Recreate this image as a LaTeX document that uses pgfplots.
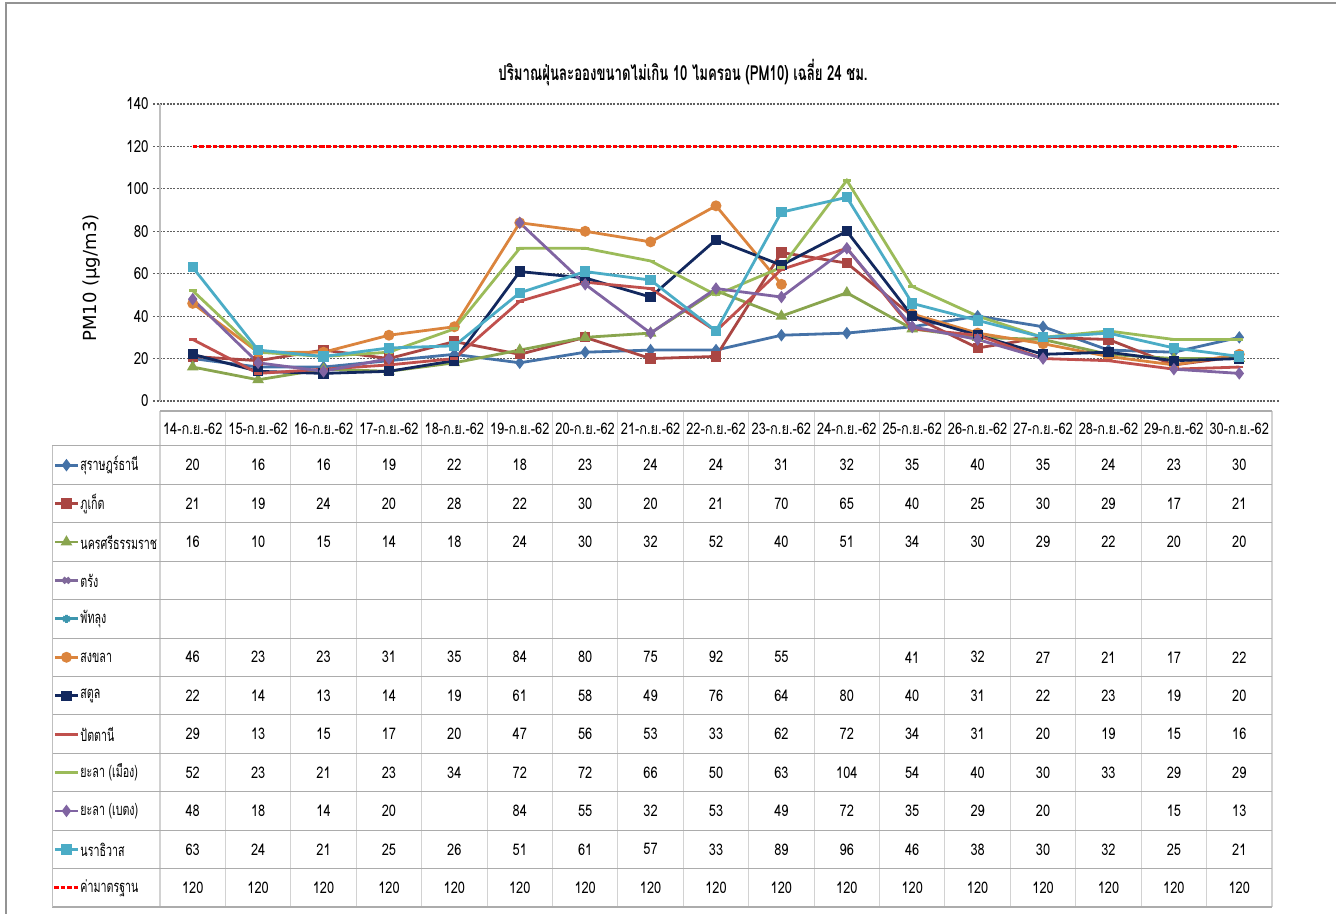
\documentclass[border=0pt]{standalone}
\usepackage{pgfplots}
\pgfplotsset{compat=1.18}
\usepackage{pgfplotstable}
\usepackage{fontspec}
\setmainfont{Loma}[Script=Thai, FakeStretch=0.8]
\newfontfamily\narrowthai{Loma}[Script=Thai, FakeStretch=0.64]
\newfontfamily\dejavu{DejaVu Sans}

\definecolor{cA}{HTML}{4572A7}
\definecolor{cB}{HTML}{AA4643}
\definecolor{cC}{HTML}{89A54E}
\definecolor{cD}{HTML}{80699B}
\definecolor{cE}{HTML}{3D96AE}
\definecolor{cF}{HTML}{DB843D}
\definecolor{cG}{HTML}{12285E}
\definecolor{cH}{HTML}{C0504D}
\definecolor{cI}{HTML}{9BBB59}
\definecolor{cJ}{HTML}{8064A2}
\definecolor{cK}{HTML}{4BACC6}
\definecolor{cStd}{HTML}{FF0000}

\pgfplotstableread{
x s1 s2 s3 s4 s5 s6 s7 s8 s9 s10 s11 std
0 20 21 16 nan nan 46 22 29 52 48 63 120
1 16 19 10 nan nan 23 14 13 23 18 24 120
2 16 24 15 nan nan 23 13 15 21 14 21 120
3 19 20 14 nan nan 31 14 17 23 20 25 120
4 22 28 18 nan nan 35 19 20 34 nan 26 120
5 18 22 24 nan nan 84 61 47 72 84 51 120
6 23 30 30 nan nan 80 58 56 72 55 61 120
7 24 20 32 nan nan 75 49 53 66 32 57 120
8 24 21 52 nan nan 92 76 33 50 53 33 120
9 31 70 40 nan nan 55 64 62 63 49 89 120
10 32 65 51 nan nan nan 80 72 104 72 96 120
11 35 40 34 nan nan 41 40 34 54 35 46 120
12 40 25 30 nan nan 32 31 31 40 29 38 120
13 35 30 29 nan nan 27 22 20 30 20 30 120
14 24 29 22 nan nan 21 23 19 33 nan 32 120
15 23 17 20 nan nan 17 19 15 29 15 25 120
16 30 21 20 nan nan 22 20 16 29 13 21 120
}\data

\pgfplotsset{
  /pgf/number format/assume math mode=true,
  base/.style={line width=2.1pt, mark size=3pt, mark options={solid}},
  sA/.style={base, color=cA, mark=diamond*},
  sB/.style={base, color=cB, mark=square*, mark size=2.8pt},
  sC/.style={base, color=cC, mark=triangle*},
  sD/.style={base, color=cD, mark=x},
  sE/.style={base, color=cE, mark=asterisk},
  sF/.style={base, color=cF, mark=*},
  sG/.style={base, color=cG, mark=square*, mark size=2.8pt},
  sH/.style={base, color=cH, mark=-},
  sI/.style={base, color=cI, mark=-},
  sJ/.style={base, color=cJ, mark=diamond*},
  sK/.style={base, color=cK, mark=square*, mark size=2.8pt},
  sStd/.style={line width=2.3pt, color=cStd, dash pattern=on 3.5pt off 1.5pt, mark=none},
  cellnum/.style={draw=none, mark=none, point meta=explicit, unbounded coords=discard,
     nodes near coords={\pgfmathprintnumber[fixed,precision=0]{\pgfplotspointmeta}},
     every node near coord/.append style={anchor=center, font=\fontsize{12}{14}\selectfont, text=black}},
}

\begin{document}
\begin{tikzpicture}[x=0.75pt,y=0.75pt]
\useasboundingbox (0,0) rectangle (1336,914);
\coordinate (chartSW) at (160,513);
\coordinate (tableSW) at (160,7);
\draw[gray!85, line width=1.1pt] (5.8,-10) -- (5.8,911) -- (1345,911);

\node[font=\narrowthai\fontsize{15.5}{17}\selectfont\bfseries] at (683,841) {ปริมาณฝุ่นละอองขนาดไม่เกิน 10 ไมครอน (PM10) เฉลี่ย 24 ชม.};
\node[rotate=90, font=\dejavu\fontsize{13.5}{15}\selectfont] at (92,636) {PM10 (µg/m3)};

\begin{axis}[at={(chartSW)}, anchor=south west, scale only axis,
  width=834pt, height=222.75pt,
  xmin=-0.5, xmax=16.5, ymin=0, ymax=140,
  ytick={0,20,...,140}, xtick=\empty,
  axis line style={draw=none},
  ymajorgrids, grid style={gray!75!black, line width=0.9pt, dash pattern=on 1.5pt off 1pt},
  tick align=outside, major tick length=5pt,
  ytick style={gray!75!black, line width=0.9pt, dash pattern=on 1.5pt off 1pt},
  yticklabel style={font=\fontsize{12.5}{14}\selectfont},
  unbounded coords=jump, clip=false]
\draw[gray!50, line width=0.8pt] (axis cs:-0.5,0) -- (axis cs:-0.5,140);
\addplot[sA] table[x=x,y=s1]{\data};
\addplot[sB] table[x=x,y=s2]{\data};
\addplot[sC] table[x=x,y=s3]{\data};
\addplot[sF] table[x=x,y=s6]{\data};
\addplot[sG] table[x=x,y=s7]{\data};
\addplot[sH] table[x=x,y=s8]{\data};
\addplot[sI] table[x=x,y=s9]{\data};
\addplot[sJ] table[x=x,y=s10]{\data};
\addplot[sK] table[x=x,y=s11]{\data};
\addplot[sStd] table[x=x,y=std]{\data};
\end{axis}

\begin{axis}[at={(tableSW)}, anchor=south west, scale only axis,
  width=834pt, height=372pt,
  xmin=-0.5, xmax=16.5, ymin=-12.5, ymax=0.41,
  axis line style={draw=none},
  xtick={-0.5,0.5,...,16.6}, ytick={-12.5,-11.5,...,-0.4},
  extra y ticks={0.41}, extra y tick labels={},
  xticklabels={}, yticklabels={}, major tick length=0pt,
  xmajorgrids, ymajorgrids,
  x grid style={gray!35, line width=0.8pt},
  y grid style={gray!65, line width=0.8pt},
  extra y tick style={grid style={gray!35, line width=0.8pt}},
  clip=false]
% label column borders
\pgfplotsinvokeforeach{-0.5,-1.5,-2.5,-3.5,-4.5,-5.5,-6.5,-7.5,-8.5,-9.5,-10.5,-11.5,-12.5}{
  \draw[gray!65, line width=0.8pt] (axis cs:-2.15,#1) -- (axis cs:-0.5,#1);}
\draw[gray!50, line width=0.8pt] (axis cs:-2.15,-0.5) -- (axis cs:-2.15,-12.5);
% header
\pgfplotsinvokeforeach{0,...,16}{
  \node[font=\fontsize{12}{14}\selectfont] at (axis cs:#1,-0.045) {\pgfmathtruncatemacro\d{#1+14}\d-ก.ย.-62};}
% legend keys
\addplot[sA, mark indices={2}] coordinates {(-2.1,-1) (-1.93,-1) (-1.76,-1)};
\addplot[sB, mark indices={2}] coordinates {(-2.1,-2) (-1.93,-2) (-1.76,-2)};
\addplot[sC, mark indices={2}] coordinates {(-2.1,-3) (-1.93,-3) (-1.76,-3)};
\addplot[sD, mark indices={2}] coordinates {(-2.1,-4) (-1.93,-4) (-1.76,-4)};
\addplot[sE, mark indices={2}] coordinates {(-2.1,-5) (-1.93,-5) (-1.76,-5)};
\addplot[sF, mark indices={2}] coordinates {(-2.1,-6) (-1.93,-6) (-1.76,-6)};
\addplot[sG, mark indices={2}] coordinates {(-2.1,-7) (-1.93,-7) (-1.76,-7)};
\addplot[sH, mark=none] coordinates {(-2.1,-8) (-1.93,-8) (-1.76,-8)};
\addplot[sI, mark=none] coordinates {(-2.1,-9) (-1.93,-9) (-1.76,-9)};
\addplot[sJ, mark indices={2}] coordinates {(-2.1,-10) (-1.93,-10) (-1.76,-10)};
\addplot[sK, mark indices={2}] coordinates {(-2.1,-11) (-1.93,-11) (-1.76,-11)};
\addplot[sStd] coordinates {(-2.12,-12) (-1.76,-12)};
% labels
\begin{scope}[every node/.style={anchor=west, font=\narrowthai\fontsize{12.5}{14}\selectfont, inner sep=1pt}]
\node at (axis cs:-1.74,-1) {สุราษฎร์ธานี};
\node at (axis cs:-1.74,-2) {ภูเก็ต};
\node at (axis cs:-1.74,-3) {นครศรีธรรมราช};
\node at (axis cs:-1.74,-4) {ตรัง};
\node at (axis cs:-1.74,-5) {พัทลุง};
\node at (axis cs:-1.74,-6) {สงขลา};
\node at (axis cs:-1.74,-7) {สตูล};
\node at (axis cs:-1.74,-8) {ปัตตานี};
\node at (axis cs:-1.74,-9) {ยะลา (เมือง)};
\node at (axis cs:-1.74,-10) {ยะลา (เบตง)};
\node at (axis cs:-1.74,-11) {นราธิวาส};
\node at (axis cs:-1.74,-12) {ค่ามาตรฐาน};
\end{scope}
% cell values
\addplot[cellnum] table[x=x, y expr={-1+\thisrow{s1}-\thisrow{s1}}, meta=s1]{\data};
\addplot[cellnum] table[x=x, y expr={-2+\thisrow{s2}-\thisrow{s2}}, meta=s2]{\data};
\addplot[cellnum] table[x=x, y expr={-3+\thisrow{s3}-\thisrow{s3}}, meta=s3]{\data};
\addplot[cellnum] table[x=x, y expr={-6+\thisrow{s6}-\thisrow{s6}}, meta=s6]{\data};
\addplot[cellnum] table[x=x, y expr={-7+\thisrow{s7}-\thisrow{s7}}, meta=s7]{\data};
\addplot[cellnum] table[x=x, y expr={-8+\thisrow{s8}-\thisrow{s8}}, meta=s8]{\data};
\addplot[cellnum] table[x=x, y expr={-9+\thisrow{s9}-\thisrow{s9}}, meta=s9]{\data};
\addplot[cellnum] table[x=x, y expr={-10+\thisrow{s10}-\thisrow{s10}}, meta=s10]{\data};
\addplot[cellnum] table[x=x, y expr={-11+\thisrow{s11}-\thisrow{s11}}, meta=s11]{\data};
\addplot[cellnum] table[x=x, y expr={-12+\thisrow{std}-\thisrow{std}}, meta=std]{\data};
\end{axis}
\end{tikzpicture}
\end{document}
